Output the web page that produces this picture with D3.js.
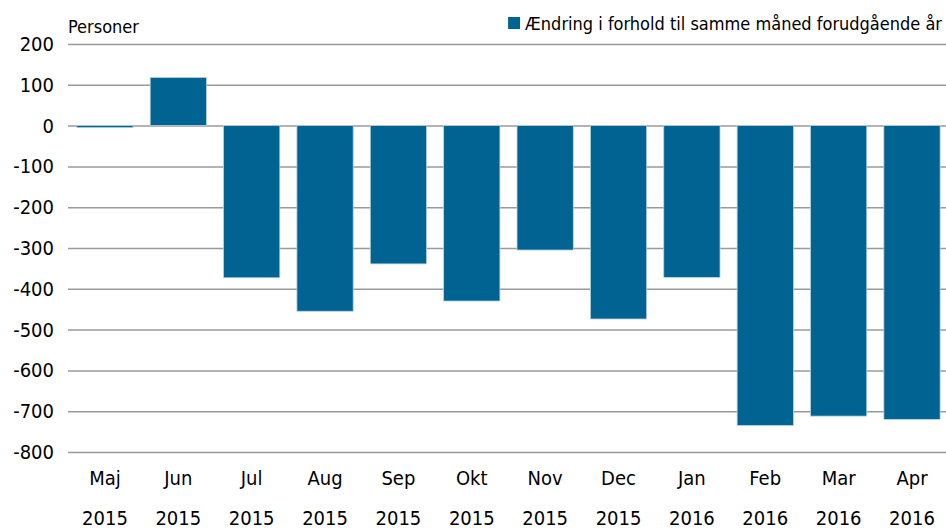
<!DOCTYPE html>
<html>
<head>
<meta charset="utf-8">
<script src="https://cdn.jsdelivr.net/npm/d3@7"></script>
<style>
  body { margin: 0; background: #fff; }
  text { font-family: "Liberation Sans Narrow", "DejaVu Sans Condensed", "Roboto", sans-serif; fill: #000; }
</style>
</head>
<body>
<div id="chart"></div>
<script>
// data
const months = ['Maj', 'Jun', 'Jul', 'Aug', 'Sep', 'Okt', 'Nov', 'Dec', 'Jan', 'Feb', 'Mar', 'Apr'];
const years = ['2015', '2015', '2015', '2015', '2015', '2015', '2015', '2015', '2016', '2016', '2016', '2016'];
const values = [-5, 118, -373, -455, -339, -430, -305, -474, -372, -735, -712, -720];
const yTicks = [200, 100, 0, -100, -200, -300, -400, -500, -600, -700, -800];
const seriesName = 'Ændring i forhold til samme måned forudgående år';
const unitLabel = 'Personer';

const width = 946, height = 529;
const margin = { top: 44, right: 0, bottom: 77, left: 68 };
const innerW = width - margin.left - margin.right;
const innerH = height - margin.top - margin.bottom;
const barColor = '#006391';

const svg = d3.select('#chart').append('svg')
  .attr('width', width)
  .attr('height', height);

const g = svg.append('g')
  .attr('transform', `translate(${margin.left},${margin.top})`);

const keys = months.map((m, i) => i);
const x = d3.scaleBand()
  .domain(keys)
  .range([0, innerW])
  .paddingInner(0.233)
  .paddingOuter(0.1)
  .align(0.6);

const y = d3.scaleLinear()
  .domain([-800, 200])
  .range([innerH, 0]);

// gridlines
g.append('g')
  .call(d3.axisLeft(y).tickValues(yTicks).tickSize(-innerW).tickFormat(d => d))
  .call(ax => ax.select('.domain').remove())
  .call(ax => ax.selectAll('line').attr('stroke', '#9a9a9a').attr('stroke-width', 1.5))
  .call(ax => ax.selectAll('text')
    .attr('x', -14)
    .style('font-size', '20px'));

// bars
g.selectAll('rect.bar')
  .data(values)
  .join('rect')
  .attr('class', 'bar')
  .attr('x', (d, i) => x(i))
  .attr('width', x.bandwidth())
  .attr('y', d => y(Math.max(0, d)))
  .attr('height', d => Math.abs(y(d) - y(0)))
  .attr('fill', barColor)
  .attr('stroke', '#b9d3e2')
  .attr('stroke-width', 0.8);

// x labels, two rows
const xl = g.append('g')
  .attr('transform', `translate(0,${innerH})`);
xl.selectAll('text.month')
  .data(months)
  .join('text')
  .attr('class', 'month')
  .attr('x', (d, i) => x(i) + x.bandwidth() / 2)
  .attr('y', 33)
  .attr('text-anchor', 'middle')
  .style('font-size', '20px')
  .text(d => d);
xl.selectAll('text.year')
  .data(years)
  .join('text')
  .attr('class', 'year')
  .attr('x', (d, i) => x(i) + x.bandwidth() / 2)
  .attr('y', 73)
  .attr('text-anchor', 'middle')
  .style('font-size', '20px')
  .text(d => d);

// unit label
svg.append('text')
  .attr('x', 68)
  .attr('y', 33)
  .style('font-size', '18px')
  .text(unitLabel);

// legend, right aligned to the plot edge
const legText = svg.append('text')
  .attr('x', 942)
  .attr('y', 30)
  .attr('text-anchor', 'end')
  .style('font-size', '18px')
  .text(seriesName);
const tw = legText.node().getComputedTextLength();
svg.append('rect')
  .attr('x', 942 - tw - 17)
  .attr('y', 17)
  .attr('width', 12)
  .attr('height', 12)
  .attr('fill', barColor);
</script>
</body>
</html>
